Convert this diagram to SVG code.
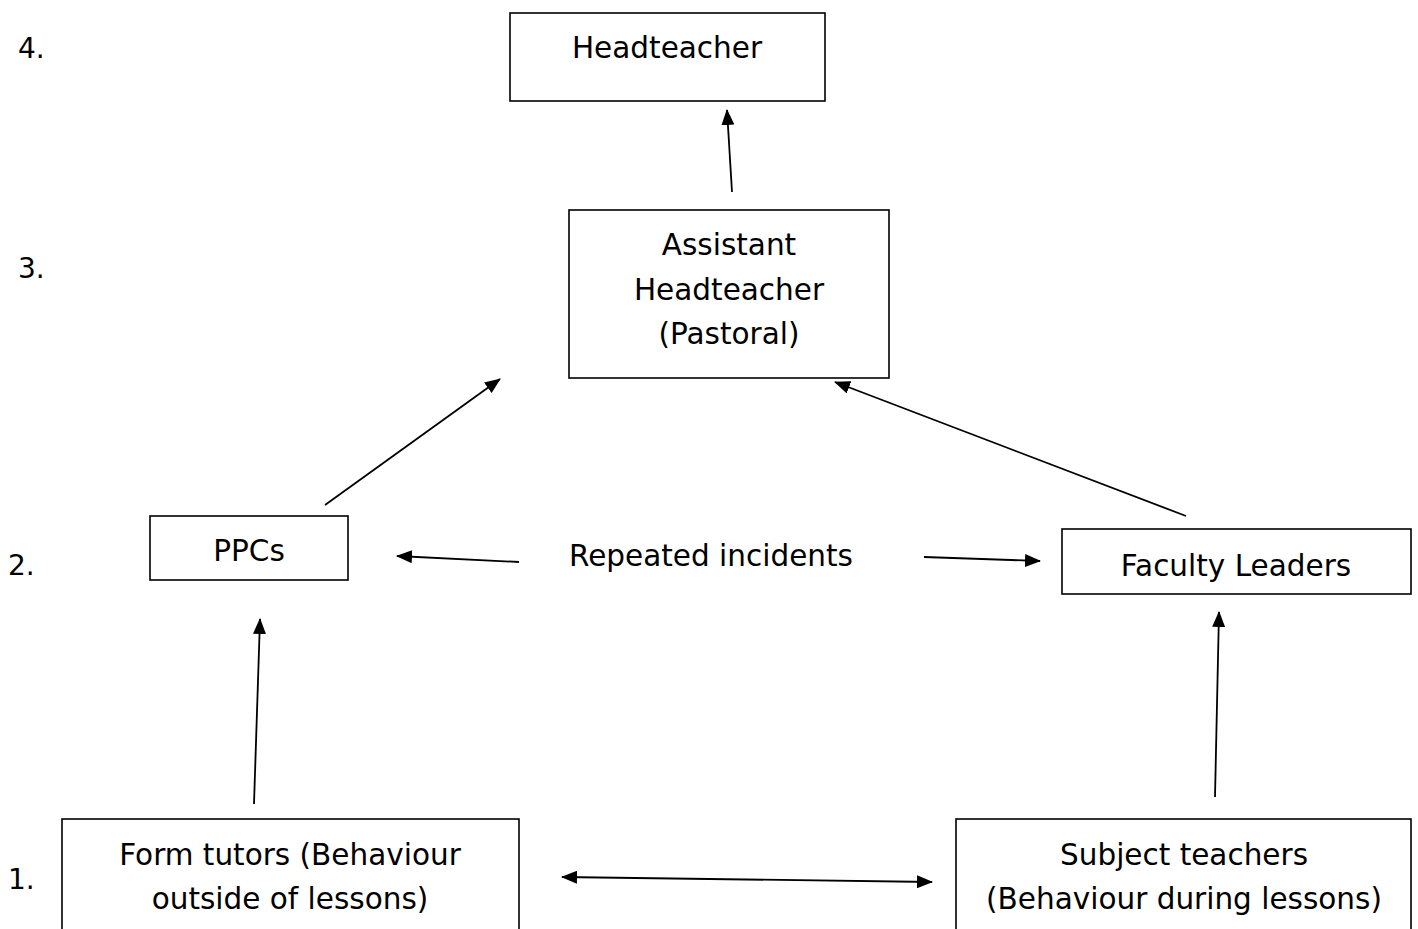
<svg xmlns="http://www.w3.org/2000/svg" width="1418" height="929" viewBox="0 0 1418 929">
<style>
.box{fill:#fff;stroke:#000;stroke-width:1.6}
.t{font-family:"DejaVu Sans","Liberation Sans",sans-serif;font-size:29.5px;fill:#000;text-anchor:middle}
.n{font-family:"DejaVu Sans","Liberation Sans",sans-serif;font-size:28px;fill:#000}
.c{stroke:#000;stroke-width:1.8;fill:none}
</style>
<defs>
<marker id="ah" markerWidth="16" markerHeight="13" refX="15" refY="6.5" orient="auto" markerUnits="userSpaceOnUse">
<path d="M0,0 L16,6.5 L0,13 Z" fill="#000"/>
</marker>
<marker id="as" markerWidth="16" markerHeight="13" refX="1" refY="6.5" orient="auto" markerUnits="userSpaceOnUse">
<path d="M16,0 L0,6.5 L16,13 Z" fill="#000"/>
</marker>
</defs>
<rect width="1418" height="929" fill="#fff"/>
<g id="levels">
<text class="n" x="18" y="58">4.</text>
<text class="n" x="18" y="278">3.</text>
<text class="n" x="8" y="575">2.</text>
<text class="n" x="8" y="889">1.</text>
</g>
<g id="headteacher">
<rect class="box" x="510" y="13" width="315" height="88"/>
<text class="t" x="667" y="58">Headteacher</text>
</g>
<g id="assistant">
<rect class="box" x="569" y="210" width="320" height="168"/>
<text class="t" x="729" y="255">Assistant</text>
<text class="t" x="729" y="300">Headteacher</text>
<text class="t" x="729" y="344">(Pastoral)</text>
</g>
<g id="ppcs">
<rect class="box" x="150" y="516" width="198" height="64"/>
<text class="t" x="249" y="561">PPCs</text>
</g>
<g id="faculty">
<rect class="box" x="1062" y="529" width="349" height="65"/>
<text class="t" x="1236" y="576">Faculty Leaders</text>
</g>
<g id="repeated">
<text class="t" x="711" y="566">Repeated incidents</text>
</g>
<g id="formtutors">
<rect class="box" x="62" y="819" width="457" height="130"/>
<text class="t" x="290" y="865">Form tutors (Behaviour</text>
<text class="t" x="290" y="909">outside of lessons)</text>
</g>
<g id="subject">
<rect class="box" x="956" y="819" width="455" height="130"/>
<text class="t" x="1184" y="865">Subject teachers</text>
<text class="t" x="1184" y="909">(Behaviour during lessons)</text>
</g>
<g id="connectors">
<line class="c" x1="732" y1="192" x2="727" y2="110" marker-end="url(#ah)"/>
<line class="c" x1="325" y1="505" x2="500" y2="379" marker-end="url(#ah)"/>
<line class="c" x1="1186" y1="516" x2="835" y2="382" marker-end="url(#ah)"/>
<line class="c" x1="519" y1="562" x2="397" y2="556" marker-end="url(#ah)"/>
<line class="c" x1="924" y1="557" x2="1040" y2="561" marker-end="url(#ah)"/>
<line class="c" x1="254" y1="804" x2="260" y2="619" marker-end="url(#ah)"/>
<line class="c" x1="1215" y1="797" x2="1219" y2="612" marker-end="url(#ah)"/>
<line class="c" x1="562" y1="877" x2="932" y2="882" marker-start="url(#as)" marker-end="url(#ah)"/>
</g>
</svg>
